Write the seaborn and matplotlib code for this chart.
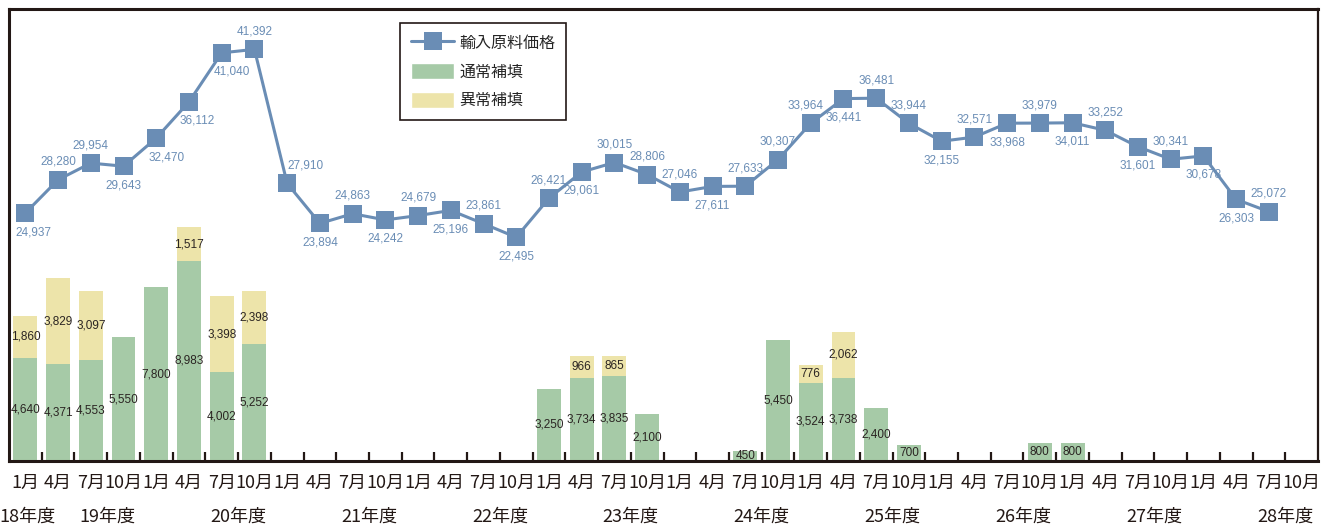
import numpy as np
import pandas as pd
import matplotlib.pyplot as plt
import seaborn as sns
from matplotlib.lines import Line2D
from matplotlib.patches import Patch
from matplotlib import font_manager
from matplotlib.transforms import blended_transform_factory

# データ
months = ['1月', '4月', '7月', '10月'] * 10
years = ['18年度', '19年度', '20年度', '21年度', '22年度', '23年度',
         '24年度', '25年度', '26年度', '27年度', '28年度']

price = [24937, 28280, 29954, 29643, 32470, 36112, 41040, 41392, 27910, 23894,
         24863, 24242, 24679, 25196, 23861, 22495, 26421, 29061, 30015, 28806,
         27046, 27611, 27633, 30307, 33964, 36441, 36481, 33944, 32155, 32571,
         33968, 33979, 34011, 33252, 31601, 30341, 30678, 26303, 25072]

normal = [4640, 4371, 4553, 5550, 7800, 8983, 4002, 5252, 0, 0,
          0, 0, 0, 0, 0, 0, 3250, 3734, 3835, 2100,
          0, 0, 450, 5450, 3524, 3738, 2400, 700, 0, 0,
          0, 800, 800, 0, 0, 0, 0, 0, 0, 0]

abnormal = [1860, 3829, 3097, 0, 0, 1517, 3398, 2398, 0, 0,
            0, 0, 0, 0, 0, 0, 0, 966, 865, 0,
            0, 0, 0, 0, 776, 2062, 0, 0, 0, 0,
            0, 0, 0, 0, 0, 0, 0, 0, 0, 0]

# ラベル位置 (u=上, d=下) と横ずれ(px)
label_pos = ['d', 'u', 'u', 'd', 'd', 'd', 'd', 'u', 'u', 'd',
             'u', 'd', 'u', 'd', 'u', 'd', 'u', 'd', 'u', 'u',
             'u', 'd', 'u', 'u', 'u', 'd', 'u', 'u', 'd', 'u',
             'd', 'u', 'd', 'u', 'd', 'u', 'd', 'd', 'u']
label_dx = {0: 8, 4: 10, 5: 8, 6: 10, 8: 18, 24: -5}

blue = '#6a8db5'
green = '#a6caa7'
yellow = '#ede4aa'
dark = '#231815'

sns.set_style('white')
names = {f.name for f in font_manager.fontManager.ttflist}
narrow = 'Liberation Sans Narrow' if 'Liberation Sans Narrow' in names else 'Liberation Sans'
plt.rcParams['font.family'] = ['Liberation Sans', 'Noto Sans CJK JP', 'DejaVu Sans']
cjk = ['Noto Sans CJK JP', 'DejaVu Sans']

slots = list(range(len(months)))
df = pd.DataFrame({'slot': slots, 'normal': normal, 'abnormal': abnormal})
df['total'] = df['normal'] + df['abnormal']

fig, ax = plt.subplots(figsize=(13.22, 5.29), dpi=100)
fig.subplots_adjust(left=9/1322, right=1318/1322, bottom=1-461/529, top=1-9/529)

# 積み上げ棒 (合計を黄色で、その上に通常補填を緑で)
sns.barplot(data=df, x='slot', y='total', color=yellow, saturation=1,
            width=0.73, linewidth=0, ax=ax)
sns.barplot(data=df, x='slot', y='normal', color=green, saturation=1,
            width=0.73, linewidth=0, ax=ax)

for i, row in df.iterrows():
    if row['normal'] > 0:
        ax.text(i, row['normal'] / 2, f"{row['normal']:,}", ha='center', va='center',
                fontsize=8.5, family=narrow, color='#2a2422')
    if row['abnormal'] > 0:
        ax.text(i, row['normal'] + row['abnormal'] / 2, f"{row['abnormal']:,}",
                ha='center', va='center', fontsize=8.5, family=narrow, color='#2a2422')

ax.set_ylim(0, 20300)
ax.set_yticks([])
ax.set_xlabel('')
ax.set_ylabel('')

# 輸入原料価格
ax2 = ax.twinx()
line_df = pd.DataFrame({'slot': slots[:len(price)], 'price': price})
sns.lineplot(data=line_df, x='slot', y='price', ax=ax2, color=blue, linewidth=2.2,
             marker='s', markersize=12.5, markeredgewidth=0, errorbar=None)
for i, v in enumerate(price):
    dy = 18 if label_pos[i] == 'u' else -19
    ax2.annotate(f'{v:,}', (i, v), xytext=(label_dx.get(i, 0), dy),
                 textcoords='offset pixels', ha='center', va='center',
                 fontsize=8.5, color=blue)
ax2.set_ylim(0, 45450)
ax2.set_yticks([])
ax2.set_ylabel('')
for s in ax2.spines.values():
    s.set_visible(False)

ax.set_xlim(-0.5, 39.5)
ax.set_xticks(slots)
ax.set_xticklabels(months, family=cjk, fontsize=13, color=dark)
ax.tick_params(axis='x', which='major', bottom=True, length=0, pad=9)
ax.set_xticks(np.arange(0.5, 39, 1), minor=True)
ax.tick_params(axis='x', which='minor', bottom=True, direction='in',
               length=6.5, width=1.6, color=dark)

for name, s in ax.spines.items():
    s.set_visible(True)
    s.set_color(dark)
    s.set_linewidth(2.2 if name != 'right' else 1.6)

trans = blended_transform_factory(ax.transData, ax.transAxes)
for k, y in enumerate(years):
    xpos = 0.07 if k == 0 else 4 * k - 1.5
    ax.text(xpos, -0.124, y, transform=trans, ha='center', va='center',
            family=cjk, fontsize=13, color=dark)

handles = [Line2D([0], [0], color=blue, lw=2.2, marker='s', markersize=12.5, markeredgewidth=0),
           Patch(facecolor=green), Patch(facecolor=yellow)]
leg = fig.legend(handles, ['輸入原料価格', '通常補填', '異常補填'], loc='upper left',
                 bbox_to_anchor=(400/1322, 1-23/529), frameon=True, fancybox=False,
                 edgecolor=dark, prop={'family': cjk, 'size': 11.5},
                 handlelength=2.7, handleheight=1.2, labelspacing=0.7,
                 borderpad=0.7, handletextpad=0.3, borderaxespad=0)
leg.get_frame().set_linewidth(1.2)
leg.get_frame().set_alpha(1)

plt.savefig('out.png', dpi=100)
